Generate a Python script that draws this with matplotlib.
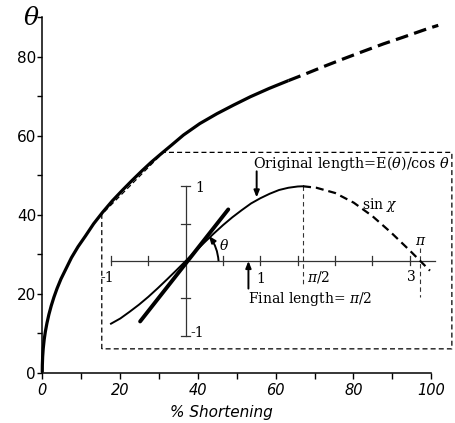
import matplotlib
matplotlib.use("Agg")
import matplotlib.pyplot as plt
from matplotlib.patches import FancyArrowPatch

plt.rcParams["mathtext.fontset"] = "dejavuserif"

# main curve: theta (deg) vs % shortening
shortening_solid = [0, 0.02, 0.1, 0.25, 0.5, 0.8, 1.2, 1.7, 2.3, 3.0, 3.8, 4.8, 6.0, 7.5,
                    9.2, 11.1, 13.2, 15.5, 18, 20.5, 23, 25.6, 28, 30.5, 33.3, 36.3, 40.5,
                    44.9, 49.2, 53.5, 58.3, 63.3]
theta_solid = [0, 1.9, 4.0, 6.1, 8.4, 10.4, 12.5, 14.7, 16.9, 19.1, 21.3, 23.7, 26.1, 29.1,
               31.9, 34.6, 37.7, 40.6, 43.5, 46.1, 48.6, 51.1, 53.3, 55.4, 57.7, 60.2, 63.1,
               65.6, 67.8, 69.9, 72.0, 74.0]
shortening_dashed = [63.3, 67.2, 72.2, 77.4, 82.5, 87.7, 92.8, 99.2, 101.8]
theta_dashed = [74.0, 75.5, 77.5, 79.5, 81.4, 83.3, 85.0, 87.2, 88.0]

# dashed box around the inset (main data units)
box_x = [15.3, 15.3, 31.1, 105.3, 105.3, 15.3]
box_y = [6.0, 40.1, 55.8, 55.8, 6.0, 6.0]

# inset: sine curve
sin_x_solid = [-1.0, -0.875, -0.75, -0.625, -0.5, -0.375, -0.25, -0.125, 0, 0.125, 0.25,
               0.375, 0.5, 0.625, 0.75, 0.875, 1.0, 1.125, 1.25, 1.375, 1.5, 1.571]
sin_y_solid = [-0.84, -0.77, -0.68, -0.585, -0.48, -0.366, -0.247, -0.125, 0, 0.125, 0.247,
               0.366, 0.48, 0.585, 0.68, 0.77, 0.84, 0.90, 0.95, 0.98, 0.997, 1.0]
sin_x_dashed = [1.571, 1.75, 2.0, 2.25, 2.5, 2.75, 3.0, 3.14, 3.27]
sin_y_dashed = [1.0, 0.98, 0.91, 0.78, 0.60, 0.38, 0.14, 0.0, -0.13]
tangent_x = [-0.61, 0.57]
tangent_y = [-0.81, 0.69]

inset_xticks = [-1, -0.5, 0.5, 1, 1.5, 2, 2.5, 3]
inset_yticks = [-1, -0.5, 0.5, 1]

fig = plt.figure(figsize=(4.55, 4.23), dpi=100)
ax = fig.add_axes([0.0758, 0.1007, 0.9233, 0.8767])
ax.set_xlim(-2, 106)
ax.set_ylim(-2, 92)

ax.plot(shortening_solid, theta_solid, color="black", lw=2.3, solid_capstyle="butt")
ax.plot(shortening_dashed, theta_dashed, color="black", lw=2.3, ls=(0, (4, 2)))
ax.plot(box_x, box_y, color="black", lw=0.9, ls=(0, (4, 2.5)))

for side in ["top", "right"]:
    ax.spines[side].set_visible(False)
ax.spines["left"].set_position(("data", 0))
ax.spines["bottom"].set_position(("data", 0))
ax.spines["left"].set_bounds(0, 90)
ax.spines["bottom"].set_bounds(0, 100)
ax.spines["left"].set_linewidth(1.1)
ax.spines["bottom"].set_linewidth(1.1)

ax.set_xticks(range(0, 101, 10))
ax.set_xticklabels([str(v) if v % 20 == 0 else "" for v in range(0, 101, 10)],
                   fontsize=10.5, style="italic")
ax.set_yticks(range(0, 91, 10))
ax.set_yticklabels([str(v) if v % 20 == 0 and v < 90 else "" for v in range(0, 91, 10)],
                   fontsize=11)
ax.tick_params(axis="x", direction="out", length=4.5, width=1, pad=3)
ax.tick_params(axis="y", direction="out", length=3.5, width=1, pad=1)

ax.text(-2.9, 89.9, r"$\theta$", fontsize=18, ha="center", va="center",
        family="DejaVu Sans", clip_on=False)
ax.text(46, -8.3, "% Shortening", fontsize=11, style="italic", ha="center", va="top",
        clip_on=False)

# inset axes, equal scale in both directions
ins = fig.add_axes([0.2111, 0.1712, 0.7716, 0.4591])
ins.set_xlim(-1.2, 3.5)
ins.set_ylim(-1.2, 1.4)
ins.axis("off")
ins.patch.set_alpha(0)

axis_kw = dict(color="0.2", lw=0.9)
ins.plot([-1, 3.34], [0, 0], **axis_kw)
ins.plot([0, 0], [-1, 1], **axis_kw)
for t in inset_xticks:
    ins.plot([t, t], [-0.06, 0.06], **axis_kw)
for t in inset_yticks:
    ins.plot([-0.06, 0.06], [t, t], **axis_kw)

ins.plot([1.571, 1.571], [1.0, -0.34], color="0.2", lw=0.8, ls=(0, (4, 3)))
ins.plot([3.142, 3.142], [0.17, -0.48], color="0.2", lw=0.8, ls=(0, (4, 3)))

ins.plot(sin_x_solid, sin_y_solid, color="black", lw=1.4)
ins.plot(sin_x_dashed, sin_y_dashed, color="black", lw=1.6, ls=(0, (3.6, 2.2)))
ins.plot(tangent_x, tangent_y, color="black", lw=2.8, solid_capstyle="round")

serif = dict(family="DejaVu Serif", fontsize=10)
ins.text(0.19, 0.98, "1", ha="center", va="center", **serif)
ins.text(0.06, -0.96, "-1", ha="left", va="center", **serif)
ins.text(-1.05, -0.23, "-1", ha="center", va="center", **serif)
ins.text(1.01, -0.24, "1", ha="center", va="center", **serif)
ins.text(1.62, -0.21, r"$\pi/2$", ha="left", va="center", **serif)
ins.text(3.02, -0.22, "3", ha="center", va="center", **serif)
ins.text(3.15, 0.27, r"$\pi$", ha="center", va="center", **serif)
ins.text(2.6, 0.75, r"sin $\chi$", ha="center", va="center", **serif)
ins.text(0.51, 0.21, r"$\theta$", ha="center", va="center", **serif)
ins.text(0.90, 1.24, r"Original length=E($\theta$)/cos $\theta$", ha="left",
         va="baseline", family="DejaVu Serif", fontsize=10.4)
ins.text(0.834, -0.566, r"Final length= $\pi/2$", ha="left", va="baseline", **serif)

arrow_kw = dict(arrowstyle="-|>,head_length=4,head_width=1.6", color="black", lw=1.4,
                shrinkA=0, shrinkB=0)
ins.add_patch(FancyArrowPatch((0.95, 1.2), (0.95, 0.85), **arrow_kw))
ins.add_patch(FancyArrowPatch((0.84, -0.37), (0.84, 0.0), **arrow_kw))
ins.add_patch(FancyArrowPatch((0.44, 0.0), (0.31, 0.335), connectionstyle="arc3,rad=0.15",
                              **arrow_kw))

fig.savefig("out.png", dpi=100)
